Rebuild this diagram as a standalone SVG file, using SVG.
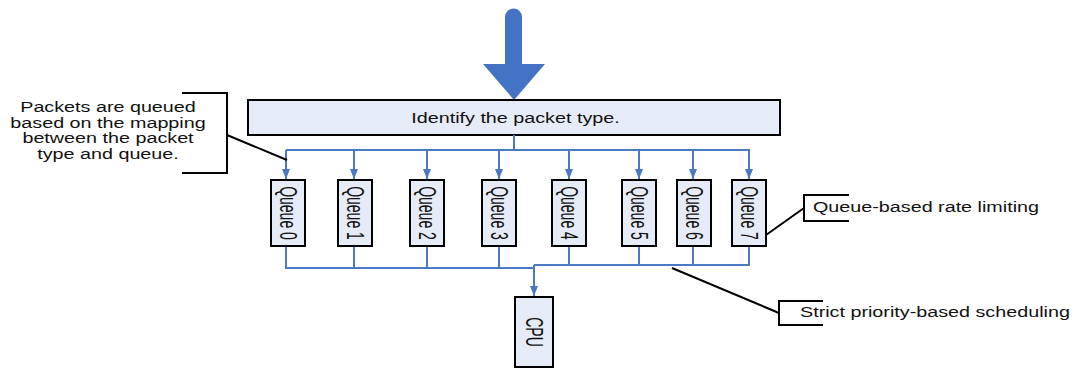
<svg xmlns="http://www.w3.org/2000/svg" width="1075" height="368" viewBox="0 0 1075 368">
  <defs>
    <style>
      .box { fill: #e6ecf7; stroke: #000; stroke-width: 2; }
      .flow { fill: none; stroke: #4a78c4; stroke-width: 2; }
      .callout { fill: none; stroke: #000; stroke-width: 2; }
      .lbl { font-family: "Liberation Sans", Arial, sans-serif; font-size: 14px; fill: #111; }
    </style>
    <marker id="arr" viewBox="0 0 10 8" refX="10" refY="4" markerWidth="5" markerHeight="4" orient="auto" markerUnits="strokeWidth">
      <path d="M0,0 L10,4 L0,8 z" fill="#4a78c4"/>
    </marker>
  </defs>

  <rect width="1075" height="368" fill="#fff"/>

  <!-- incoming traffic arrow -->
  <path id="inflow" d="M505,17 A8.5,8.5 0 0 1 522,17 L522,64 L545,64 L514,100 L483,64 L505,64 Z" fill="#4472c4"/>

  <!-- classifier -->
  <g id="identify">
    <rect class="box" x="248" y="100" width="532" height="35"/>
    <g transform="translate(515.5,123) scale(1.41,1)">
      <text class="lbl" x="0" y="0" text-anchor="middle">Identify the packet type.</text>
    </g>
  </g>

  <!-- connectors -->
  <g id="connectors">
    <path class="flow" d="M514,135 V150 M286,150 H750"/>
    <path class="flow" d="M286,150 V179" marker-end="url(#arr)"/>
    <path class="flow" d="M354,150 V179" marker-end="url(#arr)"/>
    <path class="flow" d="M427,150 V179" marker-end="url(#arr)"/>
    <path class="flow" d="M499,150 V179" marker-end="url(#arr)"/>
    <path class="flow" d="M569,150 V179" marker-end="url(#arr)"/>
    <path class="flow" d="M639,150 V179" marker-end="url(#arr)"/>
    <path class="flow" d="M693,150 V179" marker-end="url(#arr)"/>
    <path class="flow" d="M749,150 V179" marker-end="url(#arr)"/>
    <path class="flow" d="M286,246 V268 H534 M354,246 V268 M427,246 V268 M499,246 V268"/>
    <path class="flow" d="M569,246 V265 M639,246 V265 M693,246 V265 M749,246 V265 H534"/>
    <path class="flow" d="M534,265 V296" marker-end="url(#arr)"/>
  </g>

  <!-- queues -->
  <g id="queue0">
    <rect class="box" x="271" y="180" width="34" height="66"/>
    <g transform="translate(288,213) scale(1.65,1) rotate(90)"><text class="lbl" x="0" y="0" dy="0.35em" text-anchor="middle">Queue 0</text></g>
  </g>
  <g id="queue1">
    <rect class="box" x="338" y="180" width="34" height="66"/>
    <g transform="translate(355,213) scale(1.65,1) rotate(90)"><text class="lbl" x="0" y="0" dy="0.35em" text-anchor="middle">Queue 1</text></g>
  </g>
  <g id="queue2">
    <rect class="box" x="410" y="180" width="34" height="66"/>
    <g transform="translate(427,213) scale(1.65,1) rotate(90)"><text class="lbl" x="0" y="0" dy="0.35em" text-anchor="middle">Queue 2</text></g>
  </g>
  <g id="queue3">
    <rect class="box" x="482" y="180" width="34" height="66"/>
    <g transform="translate(499,213) scale(1.65,1) rotate(90)"><text class="lbl" x="0" y="0" dy="0.35em" text-anchor="middle">Queue 3</text></g>
  </g>
  <g id="queue4">
    <rect class="box" x="552" y="180" width="34" height="66"/>
    <g transform="translate(569,213) scale(1.65,1) rotate(90)"><text class="lbl" x="0" y="0" dy="0.35em" text-anchor="middle">Queue 4</text></g>
  </g>
  <g id="queue5">
    <rect class="box" x="622" y="180" width="34" height="66"/>
    <g transform="translate(639,213) scale(1.65,1) rotate(90)"><text class="lbl" x="0" y="0" dy="0.35em" text-anchor="middle">Queue 5</text></g>
  </g>
  <g id="queue6">
    <rect class="box" x="677" y="180" width="34" height="66"/>
    <g transform="translate(694,213) scale(1.65,1) rotate(90)"><text class="lbl" x="0" y="0" dy="0.35em" text-anchor="middle">Queue 6</text></g>
  </g>
  <g id="queue7">
    <rect class="box" x="732" y="180" width="34" height="66"/>
    <g transform="translate(749,213) scale(1.65,1) rotate(90)"><text class="lbl" x="0" y="0" dy="0.35em" text-anchor="middle">Queue 7</text></g>
  </g>

  <!-- CPU -->
  <g id="cpu">
    <rect class="box" x="515" y="297" width="38" height="70"/>
    <g transform="translate(534,332) scale(1.65,1) rotate(90)"><text class="lbl" x="0" y="0" dy="0.35em" text-anchor="middle">CPU</text></g>
  </g>

  <!-- annotations -->
  <g id="note-mapping">
    <path class="callout" d="M182,93 H227 V173 H182 M227,135 L287,160"/>
    <g transform="translate(108,0) scale(1.41,1)">
      <text class="lbl" x="0" y="112" text-anchor="middle">Packets are queued</text>
      <text class="lbl" x="0" y="128" text-anchor="middle">based on the mapping</text>
      <text class="lbl" x="0" y="143.5" text-anchor="middle">between the packet</text>
      <text class="lbl" x="0" y="159" text-anchor="middle">type and queue.</text>
    </g>
  </g>
  <g id="note-rate">
    <path class="callout" d="M849,195 H804 V221 H849 M804,208 L766,235"/>
    <g transform="translate(813,212) scale(1.41,1)">
      <text class="lbl" x="0" y="0">Queue-based rate limiting</text>
    </g>
  </g>
  <g id="note-sched">
    <path class="callout" d="M823,301 H779 V325 H823 M779,313 L672,268"/>
    <g transform="translate(800,317) scale(1.41,1)">
      <text class="lbl" x="0" y="0">Strict priority-based scheduling</text>
    </g>
  </g>
</svg>
